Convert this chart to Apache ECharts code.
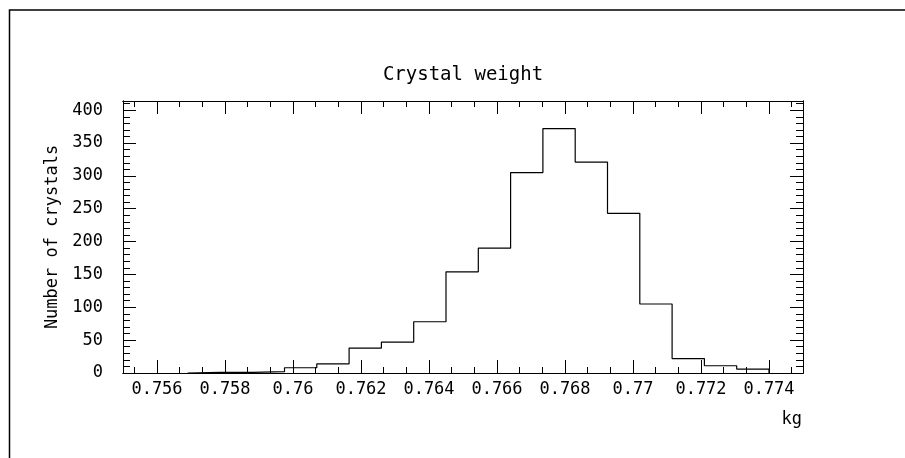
<!DOCTYPE html>
<html>
<head>
<meta charset="utf-8">
<script src="https://cdn.jsdelivr.net/npm/echarts@6/dist/echarts.min.js"></script>
<style>
html,body{margin:0;padding:0;background:#fff;}
#c{width:905px;height:458px;}
</style>
</head>
<body>
<div id="c"></div>
<script>
// Histogram bin edges (kg) and counts per bin
var binEdges = [0.7569, 0.75785, 0.7588, 0.75975, 0.7607, 0.76165, 0.7626, 0.76355, 0.7645, 0.76545,
                0.7664, 0.76735, 0.7683, 0.76925, 0.7702, 0.77115, 0.7721, 0.77305, 0.774];
var counts = [1, 1, 2, 8, 14, 38, 47, 78, 154, 190, 305, 372, 321, 243, 105, 22, 11, 6];
// Axis tick labels
var xTickLabels = [0.756, 0.758, 0.76, 0.762, 0.764, 0.766, 0.768, 0.77, 0.772, 0.774];
var yTickLabels = [0, 50, 100, 150, 200, 250, 300, 350, 400];
var titleText = 'Crystal weight';
var yName = 'Number of crystals';
var xName = 'kg';

var X_MIN = 0.755, X_MAX = 0.775, Y_MIN = 0, Y_MAX = 414;

// minor ticks (decoration): thirds between x majors, every 10 on y
var xMinor = [];
[0.754].concat(xTickLabels).forEach(function (m) {
  [m + 0.002 / 3, m + 0.004 / 3].forEach(function (v) {
    if (v > X_MIN && v < X_MAX) xMinor.push(v);
  });
});
var yMinor = [];
for (var k = 1; k * 10 < Y_MAX; k++) { if (k % 5 !== 0) yMinor.push(k * 10); }

// step outline built from bins
var outline = [[binEdges[0], 0]];
for (var i = 0; i < counts.length; i++) outline.push([binEdges[i], counts[i]]);
outline.push([binEdges[binEdges.length - 1], counts[counts.length - 1]]);
outline.push([binEdges[binEdges.length - 1], 0]);

var FONT = 'DejaVu Sans Mono';
var lineStyle = { color: '#000', width: 1 };

function xAxisDef(pos, ticks, len, labels) {
  return {
    type: 'value', position: pos, min: X_MIN, max: X_MAX, gridIndex: 0,
    axisLine: { show: true, onZero: false, lineStyle: lineStyle },
    axisTick: { show: true, inside: true, length: len, customValues: ticks, lineStyle: lineStyle },
    axisLabel: labels ? { show: true, customValues: ticks, margin: 8, color: '#000', fontFamily: FONT, fontSize: 17,
      formatter: function (v) { return String(+v.toFixed(3)); } } : { show: false },
    splitLine: { show: false }
  };
}
function yAxisDef(pos, ticks, len, labels) {
  return {
    type: 'value', position: pos, min: Y_MIN, max: Y_MAX, gridIndex: 0,
    axisLine: { show: true, onZero: false, lineStyle: lineStyle },
    axisTick: { show: true, inside: true, length: len, customValues: ticks, lineStyle: lineStyle },
    axisLabel: labels ? { show: true, customValues: ticks, margin: 20, color: '#000', fontFamily: FONT, fontSize: 17 } : { show: false },
    splitLine: { show: false }
  };
}

var yMain = yAxisDef('left', yTickLabels, 13, true);
yMain.name = yName;
yMain.nameLocation = 'middle';
yMain.nameGap = 61;
yMain.nameTextStyle = { color: '#000', fontFamily: FONT, fontSize: 17 };

var chart = echarts.init(document.getElementById('c'), null, { renderer: 'canvas' });
chart.setOption({
  animation: false,
  backgroundColor: '#fff',
  title: {
    text: titleText, left: 458, top: 61, textAlign: 'center',
    textStyle: { color: '#000', fontFamily: FONT, fontSize: 19, fontWeight: 'normal' }
  },
  grid: { left: 123, right: 102, top: 101, bottom: 85 },
  xAxis: [
    xAxisDef('bottom', xTickLabels, 13, true),
    xAxisDef('bottom', xMinor, 6, false),
    xAxisDef('top', xTickLabels, 13, false),
    xAxisDef('top', xMinor, 6, false)
  ],
  yAxis: [
    yMain,
    yAxisDef('left', yMinor, 7, false),
    yAxisDef('right', yTickLabels, 13, false),
    yAxisDef('right', yMinor, 7, false)
  ],
  series: [{
    type: 'line', xAxisIndex: 0, yAxisIndex: 0, step: 'end',
    data: outline, showSymbol: false, symbol: 'none',
    lineStyle: { color: '#000', width: 1.2 }
  }],
  graphic: [
    { type: 'text', right: 103, top: 411,
      style: { text: xName, fill: '#000', font: '17px "DejaVu Sans Mono"' } },
    { type: 'polyline', silent: true,
      shape: { points: [[9.5, 458], [9.5, 10], [905, 10]] },
      style: { stroke: '#000', lineWidth: 1.5, fill: null } }
  ]
});
</script>
</body>
</html>
